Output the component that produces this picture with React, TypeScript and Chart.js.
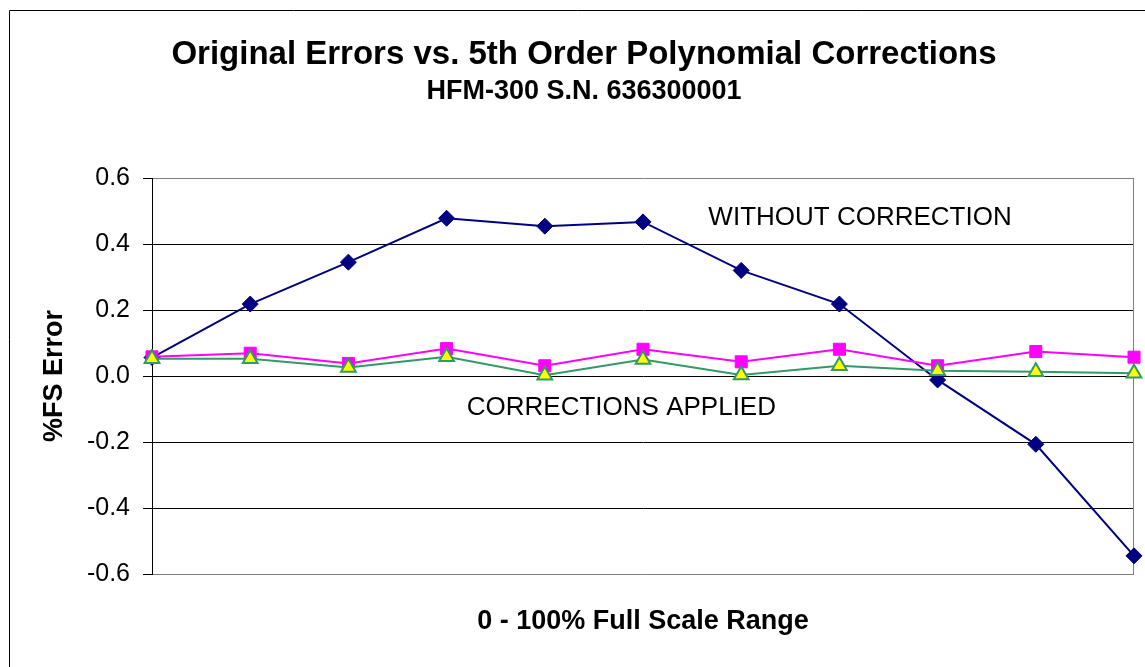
import React, { useEffect, useRef } from "react";
import { Chart, registerables } from "chart.js";

Chart.register(...registerables);

const categories = ["0", "10", "20", "30", "40", "50", "60", "70", "80", "90", "100"];
const withoutCorrection = [0.056, 0.218, 0.345, 0.478, 0.454, 0.467, 0.32, 0.218, -0.012, -0.207, -0.545];
const correctionSquares = [0.058, 0.069, 0.038, 0.083, 0.031, 0.081, 0.043, 0.081, 0.031, 0.074, 0.057];
const correctionTriangles = [0.052, 0.052, 0.026, 0.058, 0.002, 0.05, 0.003, 0.031, 0.016, 0.013, 0.008];
const yTickMin = -0.6;
const yTickMax = 0.6;
const yTickStep = 0.2;
const annotationTexts = ["WITHOUT CORRECTION", "CORRECTIONS APPLIED"];
const annotationX = [7.21, 4.78];
const annotationY = [0.479, -0.097];

const FONT = 'Arial, "Liberation Sans", sans-serif';

const framePlugin = {
  id: "frame",
  beforeDraw(chart: any) {
    const ctx = chart.ctx;
    ctx.save();
    ctx.fillStyle = "#fff";
    ctx.fillRect(0, 0, chart.width, chart.height);
    ctx.strokeStyle = "#000";
    ctx.lineWidth = 1;
    ctx.beginPath();
    ctx.moveTo(9.5, chart.height + 5);
    ctx.lineTo(9.5, 10.5);
    ctx.lineTo(chart.width + 5, 10.5);
    ctx.stroke();
    ctx.restore();
  },
  beforeDatasetsDraw(chart: any) {
    const { ctx, chartArea } = chart;
    ctx.save();
    ctx.strokeStyle = "#808080";
    ctx.lineWidth = 1;
    const x = Math.round(chartArea.right) - 0.5;
    ctx.beginPath();
    ctx.moveTo(x, Math.round(chartArea.top) + 0.5);
    ctx.lineTo(x, Math.round(chartArea.bottom) + 0.5);
    ctx.stroke();
    ctx.restore();
  },
  afterDatasetsDraw(chart: any) {
    const { ctx, scales } = chart;
    ctx.save();
    ctx.fillStyle = "#000";
    ctx.font = `26px ${FONT}`;
    ctx.textAlign = "center";
    ctx.textBaseline = "middle";
    annotationTexts.forEach((t, i) => {
      const x = scales.x.getPixelForValue(annotationX[i]);
      const y = scales.y.getPixelForValue(annotationY[i]);
      ctx.fillText(t, x, y);
    });
    ctx.restore();
  },
};

export default function App() {
  const ref = useRef<HTMLCanvasElement | null>(null);
  useEffect(() => {
    if (!ref.current) return;
    const chart = new Chart(ref.current, {
      type: "line",
      data: {
        labels: categories,
        datasets: [
          {
            label: "Without Correction",
            data: withoutCorrection,
            borderColor: "#000080",
            backgroundColor: "#000080",
            borderWidth: 2,
            pointStyle: "rectRot",
            pointRadius: 8,
            pointBorderWidth: 1,
            pointBackgroundColor: "#000080",
            pointBorderColor: "#000080",
            tension: 0,
            order: 3,
            clip: false as any,
          },
          {
            label: "Corrections (squares)",
            data: correctionSquares,
            borderColor: "#FF00FF",
            backgroundColor: "#FF00FF",
            borderWidth: 2,
            pointStyle: "rect",
            pointRadius: 8.5,
            pointBorderWidth: 1,
            pointBackgroundColor: "#FF00FF",
            pointBorderColor: "#FF00FF",
            tension: 0,
            order: 2,
            clip: false as any,
          },
          {
            label: "Corrections (triangles)",
            data: correctionTriangles,
            borderColor: "#339966",
            backgroundColor: "#FFFF00",
            borderWidth: 2,
            pointStyle: "triangle",
            pointRadius: 8.5,
            pointBorderWidth: 2,
            pointBackgroundColor: "#FFFF00",
            pointBorderColor: "#339966",
            tension: 0,
            order: 1,
            clip: false as any,
          },
        ],
      },
      options: {
        animation: false,
        responsive: false,
        maintainAspectRatio: false,
        layout: { padding: { left: 34, right: 11, top: 0, bottom: 0 } },
        plugins: {
          legend: { display: false },
          tooltip: { enabled: false },
          title: {
            display: true,
            text: "Original Errors vs. 5th Order Polynomial Corrections",
            color: "#000",
            font: { family: FONT, size: 33, weight: "bold" },
            padding: { top: 34.8, bottom: 0 },
          },
          subtitle: {
            display: true,
            text: "HFM-300 S.N. 636300001",
            color: "#000",
            font: { family: FONT, size: 27, weight: "bold" },
            padding: { top: 0.6, bottom: 70.6 },
          },
        },
        scales: {
          x: {
            type: "category",
            offset: false,
            afterFit(scale: any) {
              scale.height = 93;
            },
            grid: { display: false },
            border: { display: false },
            ticks: { display: false },
            title: {
              display: true,
              text: "0 - 100% Full Scale Range",
              color: "#000",
              font: { family: FONT, size: 27, weight: "bold" },
              padding: { top: 30, bottom: 28.8 },
            },
          },
          y: {
            type: "linear",
            min: yTickMin,
            max: yTickMax,
            afterFit(scale: any) {
              scale.width = 118;
            },
            ticks: {
              stepSize: yTickStep,
              color: "#000",
              padding: 13,
              font: { family: FONT, size: 25 },
              callback: (v: any) => (Math.abs(Number(v)) < 1e-9 ? "0.0" : Number(v).toFixed(1)),
            },
            grid: {
              color: (c: any) =>
                Math.abs(c.tick.value - yTickMax) < 1e-9 || Math.abs(c.tick.value - yTickMin) < 1e-9
                  ? "#808080"
                  : "#000",
              tickColor: "#000",
              tickLength: 9,
              lineWidth: 1,
            },
            border: { display: true, color: "#000", width: 1 },
            title: {
              display: true,
              text: "%FS Error",
              color: "#000",
              font: { family: FONT, size: 27, weight: "bold" },
              padding: { top: 4.8, bottom: 0 },
            },
          },
        },
      },
      plugins: [framePlugin],
    });
    return () => chart.destroy();
  }, []);
  return (
    <div style={{ position: "fixed", left: 0, top: 0 }}>
      <canvas ref={ref} width={1145} height={667} style={{ display: "block", width: 1145, height: 667 }} />
    </div>
  );
}
